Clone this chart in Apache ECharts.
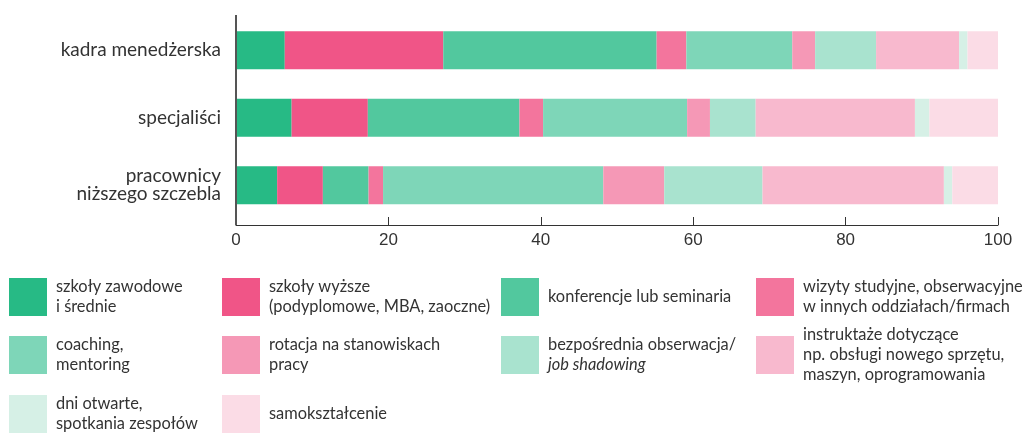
<!DOCTYPE html>
<html lang="pl">
<head>
    <meta charset="UTF-8">
    <title>Formy szkoleń</title>
    <style>
        html, body { margin: 0; padding: 0; background: #fff; }
    </style>
</head>
<body>
<div id="myChart" style="width: 1023px;height: 435px;"></div>
<script src="https://cdn.jsdelivr.net/npm/echarts@6/dist/echarts.min.js"></script>
<script>
    // dane
    var categories = ['kadra menedżerska', 'specjaliści', 'pracownicy\nniższego szczebla'];
    var xTicks = [0, 20, 40, 60, 80, 100];

    var seriesNames = [
        'szkoły zawodowe\ni średnie',
        'szkoły wyższe\n(podyplomowe, MBA, zaoczne)',
        'konferencje lub seminaria',
        'wizyty studyjne, obserwacyjne\nw innych oddziałach/firmach',
        'coaching,\nmentoring',
        'rotacja na stanowiskach\npracy',
        'bezpośrednia obserwacja/\njob shadowing',
        'instruktaże dotyczące\nnp. obsługi nowego sprzętu,\nmaszyn, oprogramowania',
        'dni otwarte,\nspotkania zespołów',
        'samokształcenie'
    ];

    var zawodowe      = [6.4, 7.3, 5.4];
    var wyzsze        = [20.8, 10.0, 6.0];
    var konferencje   = [28.0, 19.9, 6.0];
    var wizyty        = [3.9, 3.1, 1.9];
    var coaching      = [13.9, 18.9, 28.9];
    var rotacja       = [3.0, 3.0, 8.0];
    var obserwacja    = [8.0, 6.0, 12.9];
    var instruktaze   = [10.9, 20.9, 23.8];
    var dniOtwarte    = [1.1, 1.9, 1.1];
    var samo          = [4.0, 9.0, 6.0];

    var seriesValues = [zawodowe, wyzsze, konferencje, wizyty, coaching,
        rotacja, obserwacja, instruktaze, dniOtwarte, samo];

    var colors = ['#27BA85', '#F05587', '#52C89E', '#F3759D', '#7ED6B8',
        '#F598B6', '#A9E3CF', '#F8B9CE', '#D6F0E6', '#FBDCE6'];

    // legenda: 4 kolumny, srodek kwadratu w pionie
    var legendCols = [9, 222, 501, 756];
    var legendRows = [297, 355, 414];
    var legendPlace = [[0, 0], [1, 0], [2, 0], [3, 0], [0, 1], [1, 1], [2, 1], [3, 1], [0, 2], [1, 2]];
    var lh = 20;

    var myChart = echarts.init(document.getElementById('myChart'));
    var font = 'Lato, "Open Sans", sans-serif';
    var fs = 16.4;

    var legends = seriesNames.map(function (name, i) {
        var lines = name.split('\n').length;
        var h = Math.max(38, lines * lh);
        var p = legendPlace[i];
        return {
            data: [name],
            left: legendCols[p[0]],
            top: legendRows[p[1]] - h / 2,
            orient: 'vertical',
            padding: 0,
            itemWidth: 38,
            itemHeight: 38,
            icon: 'rect',
            selectedMode: false,
            formatter: function (n) {
                if (n.indexOf('job shadowing') >= 0) {
                    return '{n|bezpośrednia obserwacja/}\n{i|job shadowing}';
                }
                return n;
            },
            textStyle: {
                fontFamily: font,
                fontSize: fs,
                lineHeight: lh,
                color: '#333',
                padding: [0, 0, 0, 4],
                rich: {
                    n: { fontFamily: font, fontSize: fs, lineHeight: lh, color: '#333' },
                    i: { fontFamily: font, fontSize: fs, lineHeight: lh, color: '#333', fontStyle: 'italic' }
                }
            }
        };
    });

    var series = seriesNames.map(function (name, i) {
        return {
            name: name,
            type: 'bar',
            stack: 'all',
            barWidth: 38,
            itemStyle: { color: colors[i] },
            emphasis: { disabled: true },
            data: seriesValues[i]
        };
    });

    var option = {
        animation: false,
        color: colors,
        grid: {
            left: 236,
            right: 25,
            top: 16.5,
            height: 202.5,
            containLabel: false
        },
        legend: legends,
        xAxis: {
            type: 'value',
            min: xTicks[0],
            max: xTicks[xTicks.length - 1],
            interval: 20,
            offset: 6,
            axisLine: { show: true, lineStyle: { color: '#333', width: 1 } },
            axisTick: { show: true, inside: true, length: 8, lineStyle: { color: '#333' } },
            splitLine: { show: false },
            axisLabel: {
                color: '#333',
                fontSize: 17,
                fontFamily: '"Liberation Sans", Arial, sans-serif',
                margin: 7
            }
        },
        yAxis: {
            type: 'category',
            inverse: true,
            data: categories,
            axisLine: { show: false },
            axisTick: { show: false },
            axisLabel: {
                color: '#333',
                fontSize: 19,
                lineHeight: 18,
                fontFamily: font,
                margin: 15
            }
        },
        graphic: [{
            type: 'line',
            z: 100,
            shape: { x1: 236, y1: 15, x2: 236, y2: 225 },
            style: { stroke: '#555', lineWidth: 2 }
        }],
        series: series
    };
    myChart.setOption(option);
</script>
</body>
</html>
